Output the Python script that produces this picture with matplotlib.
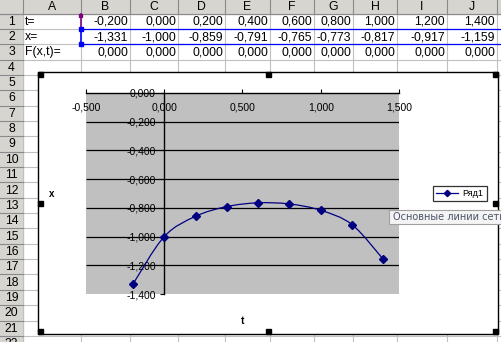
import matplotlib
matplotlib.use("Agg")
import matplotlib.pyplot as plt
from matplotlib.patches import Rectangle, PathPatch
from matplotlib.path import Path
from matplotlib.lines import Line2D
from matplotlib.ticker import FuncFormatter, MultipleLocator

plt.rcParams['font.family'] = ['Liberation Sans', 'DejaVu Sans']
plt.rcParams['axes.unicode_minus'] = False

# spreadsheet contents
col_letters = ['A', 'B', 'C', 'D', 'E', 'F', 'G', 'H', 'I', 'J']
row_names = ['t=', 'x=', 'F(x,t)=']
t_vals = [-0.2, 0.0, 0.2, 0.4, 0.6, 0.8, 1.0, 1.2, 1.4]
x_vals = [-1.331, -1.000, -0.859, -0.791, -0.765, -0.773, -0.817, -0.917, -1.159]
f_vals = [0.0, 0.0, 0.0, 0.0, 0.0, 0.0, 0.0, 0.0, 0.0]
series_name = 'Ряд1'
tooltip = 'Основные линии сетки'

W, H = 502, 342
navy = '#000080'


def fmt(v):
    return f"{v + 0.0:.3f}".replace('.', ',')


fig = plt.figure(figsize=(W / 100, H / 100), dpi=100)
sheet = fig.add_axes([0, 0, 1, 1])
sheet.set_xlim(0, W)
sheet.set_ylim(H, 0)
sheet.axis('off')

# grid geometry (pixels)
col_edges = [23, 81, 130, 178, 225, 270, 314, 353, 397, 447, 497, 560]
head_h = 13.5
row_h = 15.35
n_rows = 22
hdr_bg = '#D6D5D0'
grid_c = '#C0C0C0'
fs = 8.8

sheet.add_patch(Rectangle((0, 0), W, H, color='white', zorder=0))
# column header band and row header band
sheet.add_patch(Rectangle((0, 0), W, head_h, color=hdr_bg, zorder=1))
sheet.add_patch(Rectangle((0, 0), col_edges[0], H, color=hdr_bg, zorder=1))

for x in col_edges:
    sheet.plot([x, x], [head_h, H], color=grid_c, lw=0.8, zorder=1)
    sheet.plot([x, x], [0, head_h], color='#8A8A8A', lw=0.8, zorder=2)
for i in range(n_rows + 1):
    y = head_h + i * row_h
    sheet.plot([col_edges[0], W], [y, y], color=grid_c, lw=0.8, zorder=1)
    sheet.plot([0, col_edges[0]], [y, y], color='#8A8A8A', lw=0.8, zorder=2)
sheet.plot([0, W], [head_h, head_h], color='#8A8A8A', lw=0.8, zorder=2)

for i, letter in enumerate(col_letters):
    xc = (col_edges[i] + col_edges[i + 1]) / 2
    sheet.text(xc, head_h / 2 + 0.5, letter, ha='center', va='center',
               fontsize=fs, zorder=3)
for i in range(n_rows):
    yc = head_h + (i + 0.5) * row_h
    sheet.text(col_edges[0] / 2, yc + 0.5, str(i + 1), ha='center',
               va='center', fontsize=fs, zorder=3)

rows = [t_vals, x_vals, f_vals]
for r, (name, vals) in enumerate(zip(row_names, rows)):
    yc = head_h + (r + 0.5) * row_h + 0.5
    sheet.text(col_edges[0] + 2, yc, name, ha='left', va='center',
               fontsize=fs, zorder=3)
    for c, v in enumerate(vals):
        sheet.text(col_edges[c + 2] - 2, yc, fmt(v), ha='right',
                   va='center', fontsize=fs, zorder=3)

# range highlights (categories purple, values blue)
r1_top, r2_top, r3_top = head_h, head_h + row_h, head_h + 2 * row_h
sheet.plot([col_edges[1], col_edges[1]], [r1_top, r2_top - 1], color='#800080',
           lw=1.2, zorder=4)
sheet.add_patch(Rectangle((col_edges[1] - 1.5, r1_top), 3, 3, color='#800080', zorder=4))
sheet.plot([col_edges[1], W], [r2_top, r2_top], color='#0000FF', lw=0.9, zorder=4)
sheet.plot([col_edges[1], W], [r3_top, r3_top], color='#0000FF', lw=0.9, zorder=4)
sheet.plot([col_edges[1], col_edges[1]], [r2_top, r3_top], color='#0000FF', lw=1.2, zorder=4)
for y in (r2_top, r3_top):
    sheet.add_patch(Rectangle((col_edges[1] - 2, y - 2), 4, 4, color='#0000FF', zorder=4))

# chart area
cx0, cy0, cx1, cy1 = 38, 72, 498, 334
sheet.add_patch(Rectangle((cx0, cy0), cx1 - cx0, cy1 - cy0, facecolor='white',
                          edgecolor='black', lw=1, zorder=5))
hx = [cx0, (cx0 + cx1) / 2 - 2, cx1 - 5]
hy = [cy0, (cy0 + cy1) / 2 - 2, cy1 - 5]
for xi, x in enumerate(hx):
    for yi, y in enumerate(hy):
        if xi == 1 and yi == 1:
            continue
        sheet.add_patch(Rectangle((x, y), 5, 5, color='black', zorder=6))

# plot area
px0, py0, px1, py1 = 86, 93, 399, 294
ax = fig.add_axes([px0 / W, 1 - py1 / H, (px1 - px0) / W, (py1 - py0) / H])
ax.set_facecolor('#C0C0C0')
ax.set_xlim(-0.5, 1.5)
ax.set_ylim(-1.4, 0.0)
ax.xaxis.set_major_locator(MultipleLocator(0.5))
ax.yaxis.set_major_locator(MultipleLocator(0.2))
ax.xaxis.set_major_formatter(FuncFormatter(lambda v, _: fmt(v)))
ax.yaxis.set_major_formatter(FuncFormatter(lambda v, _: fmt(v)))
for s in ('top', 'right'):
    ax.spines[s].set_visible(False)
ax.spines['bottom'].set_position(('data', 0))
ax.spines['left'].set_position(('data', 0))
ax.spines['bottom'].set_linewidth(1)
ax.spines['left'].set_linewidth(1)
ax.tick_params(axis='x', direction='in', length=3, pad=7, labelsize=7.5)
ax.tick_params(axis='y', direction='out', length=3, pad=3, labelsize=7.5)
ax.hlines([-0.2, -0.4, -0.6, -0.8, -1.0, -1.2], -0.5, 1.5, color='black',
          lw=0.9, zorder=1)

# smoothed series (Bezier through the data points, like Excel's smoothing)
pts = list(zip(t_vals, x_vals))
verts = [pts[0]]
codes = [Path.MOVETO]
for i in range(len(pts) - 1):
    p0 = pts[max(i - 1, 0)]
    p1 = pts[i]
    p2 = pts[i + 1]
    p3 = pts[min(i + 2, len(pts) - 1)]
    c1 = (p1[0] + (p2[0] - p0[0]) / 6, p1[1] + (p2[1] - p0[1]) / 6)
    c2 = (p2[0] - (p3[0] - p1[0]) / 6, p2[1] - (p3[1] - p1[1]) / 6)
    verts += [c1, c2, p2]
    codes += [Path.CURVE4] * 3
ax.add_patch(PathPatch(Path(verts, codes), fill=False, edgecolor=navy, lw=0.9, zorder=3))
ax.plot(t_vals, x_vals, linestyle='none', marker='D', ms=3.8, color=navy, zorder=4)

ax.set_ylabel('x', rotation=0, fontsize=7, fontweight='bold')
ax.yaxis.set_label_coords((52 - px0) / (px1 - px0), (py1 - 194) / (py1 - py0))
ax.set_xlabel('t', fontsize=7.5, fontweight='bold')
ax.xaxis.set_label_coords(0.5, (py1 - 321) / (py1 - py0))
ax.yaxis.label.set_va('center')
ax.xaxis.label.set_va('center')

handle = Line2D([], [], color=navy, lw=0.9, marker='D', ms=3.2)
leg = fig.legend(handles=[handle], labels=[series_name], loc='center',
                 bbox_to_anchor=(460 / W, 1 - 193.5 / H), fontsize=6.5,
                 frameon=True, fancybox=False, handlelength=2.4,
                 borderpad=0.35, handletextpad=0.5, borderaxespad=0)
leg.get_frame().set_edgecolor('black')
leg.get_frame().set_linewidth(0.9)

# tooltip over the chart edge
over = fig.add_axes([0, 0, 1, 1], facecolor='none')
over.set_xlim(0, W)
over.set_ylim(H, 0)
over.axis('off')
over.add_patch(Rectangle((389, 210), 130, 13.5, facecolor='#F4F4F4',
                         edgecolor='#A0A0A0', lw=0.8))
over.text(393, 217, tooltip, ha='left', va='center', fontsize=7.0,
          color='#4A5468', family='DejaVu Sans')

fig.savefig('out.png', dpi=100)
